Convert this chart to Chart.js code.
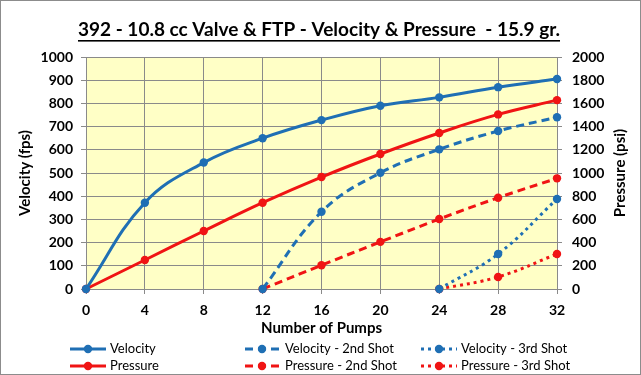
<!DOCTYPE html>
<html><head><meta charset="utf-8">
<script src="https://cdn.jsdelivr.net/npm/chart.js@4.4.0/dist/chart.umd.min.js"></script>
<style>html,body{margin:0;padding:0;background:#fff}#wrap{width:641px;height:375px;position:relative}</style>
</head><body><div id="wrap"><canvas id="c" width="641" height="375"></canvas></div>
<script>
const titleText = '392 - 10.8 cc Valve & FTP - Velocity & Pressure  - 15.9 gr.';
const xTitle = 'Number of Pumps';
const yLeftTitle = 'Velocity (fps)';
const yRightTitle = 'Pressure (psi)';
const pumps1 = [0, 4, 8, 12, 16, 20, 24, 28, 32];
const velocity1 = [0, 372, 545, 650, 728, 790, 826, 870, 905];
const pressure1 = [0, 250, 500, 744, 965, 1164, 1345, 1505, 1628];
const pumps2 = [12, 16, 20, 24, 28, 32];
const velocity2 = [0, 333, 501, 602, 681, 740];
const pressure2 = [0, 205, 406, 603, 787, 954];
const pumps3 = [24, 28, 32];
const velocity3 = [0, 151, 388];
const pressure3 = [0, 104, 302];
const seriesNames = ['Velocity', 'Velocity - 2nd Shot', 'Velocity - 3rd Shot', 'Pressure', 'Pressure - 2nd Shot', 'Pressure - 3rd Shot'];

const BLUE = '#1F6FB4', RED = '#F01414';
const FONT = "Lato, 'Open Sans', sans-serif";
const DASH = [8, 5], DOT = [3, 4];

function pts(xs, ys) { return xs.map((x, i) => ({x: x, y: ys[i]})); }
function ds(label, xs, ys, color, dash, axis) {
  return {label, data: pts(xs, ys), borderColor: color, backgroundColor: color, borderWidth: 3,
    borderDash: dash, pointRadius: 4.2, pointHoverRadius: 4.2, pointBorderWidth: 0, pointBackgroundColor: color,
    tension: 0.4, yAxisID: axis, borderCapStyle: 'butt', clip: false};
}
const datasets = [
  ds(seriesNames[0], pumps1, velocity1, BLUE, [], 'y'),
  ds(seriesNames[1], pumps2, velocity2, BLUE, DASH, 'y'),
  ds(seriesNames[2], pumps3, velocity3, BLUE, DOT, 'y'),
  ds(seriesNames[3], pumps1, pressure1, RED, [], 'y2'),
  ds(seriesNames[4], pumps2, pressure2, RED, DASH, 'y2'),
  ds(seriesNames[5], pumps3, pressure3, RED, DOT, 'y2'),
];

const deco = {
  id: 'deco',
  beforeDraw(chart) {
    const {ctx, chartArea: a, width, height} = chart;
    ctx.save();
    ctx.fillStyle = '#fff'; ctx.fillRect(0, 0, width, height);
    ctx.fillStyle = '#FFFFC6'; ctx.fillRect(a.left, a.top, a.right - a.left, a.bottom - a.top);
    ctx.restore();
  },
  afterDraw(chart) {
    const {ctx, chartArea: a, width, height} = chart;
    ctx.save();
    // title
    ctx.font = 'bold 19px ' + FONT;
    ctx.fillStyle = '#000'; ctx.textAlign = 'center'; ctx.textBaseline = 'middle';
    const cx = 319;
    ctx.fillText(titleText, cx, 30);
    const w = ctx.measureText(titleText).width;
    ctx.fillRect(cx - w / 2, 40, w, 1.6);
    // right axis title
    ctx.save();
    ctx.translate(620, (a.top + a.bottom) / 2);
    ctx.rotate(-Math.PI / 2);
    ctx.font = 'bold 15px ' + FONT;
    ctx.fillText(yRightTitle, 0, 0);
    ctx.restore();
    // legend
    const cols = [[70, 106, 110], [245, 279, 285], [421, 457, 461]];
    const rows = [349, 366];
    ctx.font = '13px ' + FONT; ctx.textAlign = 'left';
    for (let i = 0; i < 6; i++) {
      const d = chart.data.datasets[i];
      const c = cols[i % 3], y = rows[Math.floor(i / 3)];
      ctx.strokeStyle = d.borderColor; ctx.lineWidth = 3; ctx.setLineDash(d.borderDash);
      ctx.beginPath(); ctx.moveTo(c[0], y); ctx.lineTo(c[1], y); ctx.stroke();
      ctx.setLineDash([]);
      ctx.fillStyle = d.borderColor;
      ctx.beginPath(); ctx.arc((c[0] + c[1]) / 2, y, 4.2, 0, Math.PI * 2); ctx.fill();
      ctx.fillStyle = '#000';
      ctx.fillText(d.label, c[2], y);
    }
    // border
    ctx.strokeStyle = '#8c8c8c'; ctx.lineWidth = 1;
    ctx.strokeRect(0.5, 0.5, width - 1, height - 1);
    ctx.restore();
  }
};

const tickFont = {family: FONT, size: 14, weight: 'bold'};
const GRID = '#8A8A8A';
const plain = (v) => String(v);
new Chart(document.getElementById('c'), {
  type: 'line',
  data: {datasets},
  options: {
    responsive: false, animation: false, devicePixelRatio: 1,
    layout: {padding: {top: 57, bottom: 38, left: 0, right: 0}},
    plugins: {legend: {display: false}, title: {display: false}, tooltip: {enabled: false}},
    scales: {
      x: {type: 'linear', min: 0, max: 32,
        ticks: {stepSize: 4, font: tickFont, color: '#000', padding: 8, maxRotation: 0, callback: plain},
        grid: {color: GRID, tickLength: 5, lineWidth: 1},
        border: {color: GRID},
        title: {display: true, text: xTitle, font: {family: FONT, size: 15, weight: 'bold'}, color: '#000', padding: {top: 0, bottom: 0}},
        afterFit(s) { s.height = 48; }
      },
      y: {position: 'left', min: 0, max: 1000,
        ticks: {stepSize: 100, font: tickFont, color: '#000', padding: 8, callback: plain},
        grid: {color: GRID, tickLength: 5},
        border: {color: GRID},
        title: {display: true, text: yLeftTitle, font: {family: FONT, size: 15, weight: 'bold'}, color: '#000', padding: {top: 16, bottom: 0}},
        afterFit(s) { s.width = 86; }
      },
      y2: {position: 'right', min: 0, max: 2000,
        ticks: {stepSize: 200, font: tickFont, color: '#000', padding: 10, callback: plain},
        grid: {drawOnChartArea: false, color: GRID, tickLength: 5},
        border: {color: GRID},
        afterFit(s) { s.width = 84; }
      }
    }
  },
  plugins: [deco]
});
</script></body></html>
